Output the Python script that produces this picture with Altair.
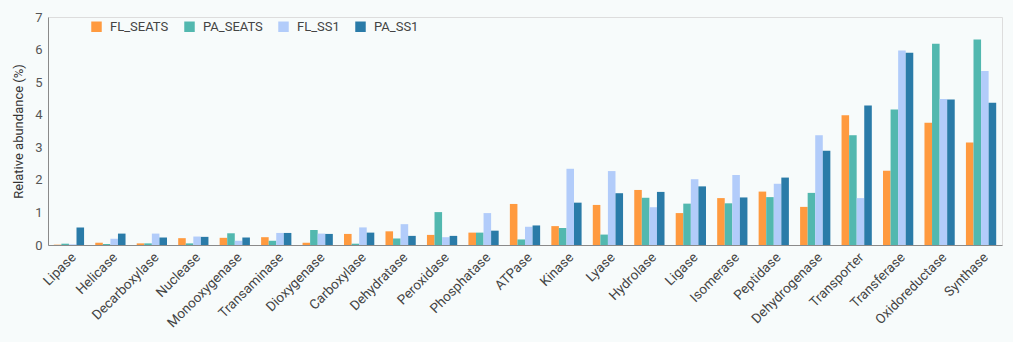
import altair as alt
import pandas as pd

categories = ["Lipase", "Helicase", "Decarboxylase", "Nuclease", "Monooxygenase",
              "Transaminase", "Dioxygenase", "Carboxylase", "Dehydratase", "Peroxidase",
              "Phosphatase", "ATPase", "Kinase", "Lyase", "Hydrolase", "Ligase",
              "Isomerase", "Peptidase", "Dehydrogenase", "Transporter", "Transferase",
              "Oxidoreductase", "Synthase"]
series = ["FL_SEATS", "PA_SEATS", "FL_SS1", "PA_SS1"]
fl_seats = [0.01, 0.07, 0.05, 0.21, 0.22, 0.24, 0.07, 0.34, 0.42, 0.31, 0.38, 1.26,
            0.58, 1.23, 1.69, 0.98, 1.44, 1.64, 1.17, 3.98, 2.28, 3.75, 3.15]
pa_seats = [0.04, 0.03, 0.05, 0.05, 0.36, 0.13, 0.46, 0.04, 0.20, 1.01, 0.38, 0.17,
            0.52, 0.32, 1.45, 1.27, 1.28, 1.47, 1.60, 3.37, 4.16, 6.18, 6.31]
fl_ss1 = [0.02, 0.19, 0.35, 0.26, 0.13, 0.37, 0.35, 0.54, 0.64, 0.24, 0.98, 0.56,
          2.34, 2.27, 1.16, 2.02, 2.15, 1.88, 3.37, 1.44, 5.97, 4.48, 5.34]
pa_ss1 = [0.54, 0.35, 0.23, 0.25, 0.23, 0.37, 0.34, 0.38, 0.28, 0.28, 0.44, 0.60,
          1.30, 1.59, 1.63, 1.80, 1.46, 2.07, 2.89, 4.28, 5.90, 4.47, 4.37]
colors = ["#FF9A3F", "#52B8AF", "#B2CCFA", "#2A7BA8"]

rows = []
for s, vals in zip(series, [fl_seats, pa_seats, fl_ss1, pa_ss1]):
    for c, v in zip(categories, vals):
        rows.append({"category": c, "series": s, "value": v})
df = pd.DataFrame(rows)

chart = alt.Chart(df).mark_bar().encode(
    x=alt.X("category:N", sort=categories, title=None,
            scale=alt.Scale(paddingInner=0.27, paddingOuter=0.14),
            axis=alt.Axis(labelAngle=-45, ticks=False, domainColor="#8a8a8a",
                          labelFontSize=13.5, labelColor="#444", labelPadding=5)),
    xOffset=alt.XOffset("series:N", sort=series),
    y=alt.Y("value:Q", title="Relative abundance (%)",
            scale=alt.Scale(domain=[0, 7], nice=False),
            axis=alt.Axis(ticks=False, grid=False, tickCount=7, domainColor="#8a8a8a",
                          labelFontSize=13, labelColor="#555", labelPadding=6,
                          titleFontSize=13, titleFontWeight="normal", titleColor="#333",
                          titlePadding=9)),
    color=alt.Color("series:N", sort=series,
                    scale=alt.Scale(domain=series, range=colors),
                    legend=alt.Legend(title=None, orient="none", direction="horizontal",
                                      legendX=42, legendY=3, symbolType="square",
                                      symbolSize=110, symbolStrokeWidth=0,
                                      labelFontSize=13, labelColor="#444",
                                      columnPadding=14, labelOffset=7)),
).properties(
    width=954, height=228,
    background="#F7FBFB",
    padding={"left": 48, "top": 17, "right": 11, "bottom": 97},
    autosize=alt.AutoSizeParams(type="none"),
).configure_view(stroke=None).configure(font="Roboto")

chart.save("out.html", embed_options={"renderer": "svg", "actions": False})
